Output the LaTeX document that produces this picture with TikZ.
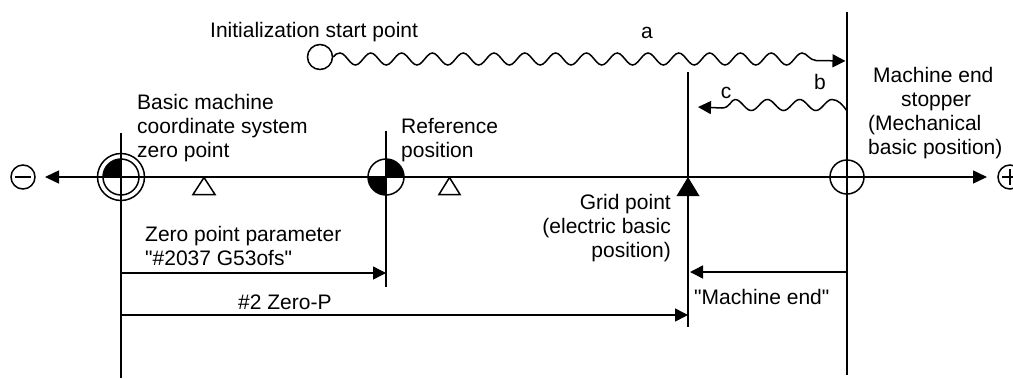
\documentclass[tikz,border=0pt]{standalone}
\usepackage{fontspec}
\setmainfont{Liberation Sans}[Ligatures=TeXOff]
\usetikzlibrary{arrows.meta,calc}
\tikzset{
  x=1pt,y=-1pt,
  ln/.style={draw=black,line width=1.5pt},
  arr/.style={ln,-{Triangle[length=13pt,width=13pt]}},
  txt/.style={inner sep=0pt,font=\fontsize{21}{24}\selectfont},
  sym/.style={circle,draw=black,line width=1.5pt,inner sep=0pt,minimum size=#1}
}
\begin{document}
\begin{tikzpicture}
\useasboundingbox (0,0) rectangle (1013,378);
% vertical lines
\coordinate (zeroTop) at (121,133);
\coordinate (zeroBot) at (121,378);
\coordinate (refTop) at (386,131);
\coordinate (refBot) at (386,287);
\coordinate (gridTop) at (688,72);
\coordinate (gridBot) at (688,327);
\coordinate (stopTop) at (847,12);
\coordinate (stopBot) at (847,375);
\draw[ln] (zeroTop) -- (zeroBot);
\draw[ln] (refTop) -- (refBot);
\draw[ln] (gridTop) -- (gridBot);
\draw[ln] (stopTop) -- (stopBot);
% quadrant fills
\begin{scope}
  \clip (100,157) rectangle (121,177);
  \fill[black] (121,177) circle [radius=18pt];
\end{scope}
\begin{scope}
  \clip (386,158) rectangle (405,177);
  \fill[black] (386,177) circle [radius=18pt];
\end{scope}
\begin{scope}
  \clip (366,177) rectangle (386,197);
  \fill[black] (386,177) circle [radius=18pt];
\end{scope}
% symbols
\node[sym=24pt] (minus) at (23,177) {};
\node[sym=24pt] (plus) at (1010,177) {};
\node[sym=47pt] (zeroOuter) at (121,177) {};
\node[sym=36pt] (zeroInner) at (121,177) {};
\node[sym=36pt] (refSym) at (386,177) {};
\node[sym=34pt] (stopSym) at (847,177) {};
\node[sym=25pt] (init) at (320,57) {};
\draw[ln] ($(minus.center)+(-8,0)$) -- ($(minus.center)+(8,0)$);
\draw[ln] ($(plus.center)+(-8,0)$) -- ($(plus.center)+(8,0)$);
\draw[ln] ($(plus.center)+(0,-8)$) -- ($(plus.center)+(0,8)$);
% axis
\coordinate (axisLeft) at (45,177);
\coordinate (axisRight) at (987,177);
\draw[ln,{Triangle[length=14pt,width=13pt]}-{Triangle[length=14pt,width=13pt]}] (axisLeft) -- (axisRight);
% triangles
\draw[ln,line join=miter] (204,177.5) -- (215,194.5) -- (193,194.5) -- cycle;
\draw[ln,line join=miter] (449.5,177.5) -- (460,194.5) -- (439,194.5) -- cycle;
\fill[black] (688,177) -- (699.5,196) -- (676.5,196) -- cycle;
% dimension arrows
\draw[arr] (121,273) -- (386,273);
\draw[arr] (121,315) -- (688,315);
\draw[arr] (847,272) -- (690,272);
% wavy paths
\draw[arr] (init.east) .. controls (335,54.5) and (337,53) .. (340,53)
  -- plot[domain=340:802,samples=181,variable=\x] ({\x},{59-6*cos((\x-340)*11.688)})
  .. controls (807,53) and (809,60) .. (816,60.5) -- (845.5,61);
\draw[arr] (847,111) .. controls (843,105) and (838,99.5) .. (832,99.5)
  -- plot[domain=832:735,samples=61,variable=\x] ({\x},{105-5.5*cos((\x-832)*11.146)})
  .. controls (731,99.5) and (730,108) .. (722,108) -- (698,107);
% labels
\node[txt,anchor=base west] (lblInit) at (210,37) {Initialization start point};
\node[txt,anchor=base] (lblA) at (647,38) {a};
\node[txt,anchor=base] (lblB) at (820,89) {b};
\node[txt,anchor=base] (lblC) at (726,98) {c};
\node[txt,anchor=north west,align=left] (lblBasic) at (137,93.7) {Basic machine\\coordinate system\\zero point};
\node[txt,anchor=north west,align=left] (lblRef) at (401,117.7) {Reference\\position};
\node[txt,anchor=north east,align=right] (lblGrid) at (671,193.7) {Grid point\\(electric basic\\position)};
\node[txt,anchor=north west,align=left] (lblStop) at (868,66.7) {\hspace*{5pt}Machine end\\\hspace*{33pt}stopper\\(Mechanical\\basic position)};
\node[txt,anchor=north west,align=left] (lblZero) at (145,225.7) {Zero point parameter\\"\#2037 G53ofs"};
\node[txt,anchor=base west] (lblTwo) at (238,309) {\#2 Zero-P};
\node[txt,anchor=base west] (lblEnd) at (694,304) {"Machine end"};
\end{tikzpicture}
\end{document}
